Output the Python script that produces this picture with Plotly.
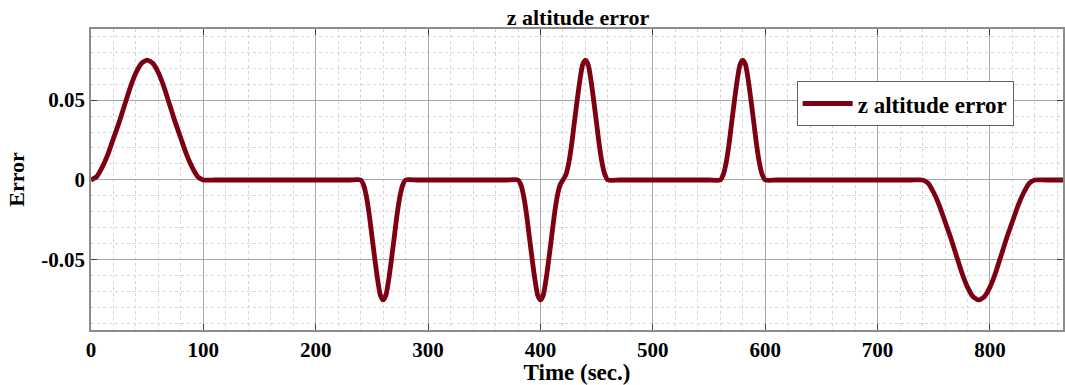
import plotly.graph_objects as go

# Time samples (sec.) and the z altitude error
time_s = [
    0, 5, 10, 15, 20, 25, 30, 35, 40, 45, 50, 55, 60, 65, 70, 75, 80, 85, 90, 95, 100,
    110, 120, 140, 160, 180, 200, 220, 230,
    240, 242.5, 245, 247.5, 250, 252.5, 255, 257.5, 260, 262.5, 265, 267.5, 270, 272.5, 275, 277.5, 280,
    290, 300, 320, 340, 360, 370,
    380, 382.5, 385, 387.5, 390, 392.5, 395, 397.5, 400, 402.5, 405, 407.5, 410, 412.5, 415, 417.5, 420,
    422.5, 425, 427.5, 430, 432.5, 435, 437.5, 440, 442.5, 445, 447.5, 450, 452.5, 455, 457.5, 460,
    470, 480, 500, 520, 540, 550,
    560, 562.5, 565, 567.5, 570, 572.5, 575, 577.5, 580, 582.5, 585, 587.5, 590, 592.5, 595, 597.5, 600,
    610, 620, 640, 660, 680, 700, 720, 730,
    740, 745, 750, 755, 760, 765, 770, 775, 780, 785, 790, 795, 800, 805, 810, 815, 820, 825, 830, 835, 840,
    850, 865,
]

z_error = [
    0, 0.002, 0.008, 0.016, 0.026, 0.036, 0.047, 0.058, 0.067, 0.073, 0.075,
    0.073, 0.067, 0.058, 0.047, 0.036, 0.026, 0.016, 0.008, 0.002, 0,
    0, 0, 0, 0, 0, 0, 0, 0,
    0, -0.003, -0.010, -0.021, -0.035, -0.049, -0.062, -0.072, -0.075,
    -0.072, -0.062, -0.049, -0.035, -0.021, -0.010, -0.003, 0,
    0, 0, 0, 0, 0, 0,
    0, -0.003, -0.010, -0.021, -0.035, -0.049, -0.062, -0.072, -0.075,
    -0.072, -0.062, -0.049, -0.035, -0.021, -0.010, -0.003, 0,
    0.003, 0.010, 0.021, 0.035, 0.049, 0.062, 0.072, 0.075,
    0.072, 0.062, 0.049, 0.035, 0.021, 0.010, 0.003, 0,
    0, 0, 0, 0, 0, 0,
    0, 0.003, 0.010, 0.021, 0.035, 0.049, 0.062, 0.072, 0.075,
    0.072, 0.062, 0.049, 0.035, 0.021, 0.010, 0.003, 0,
    0, 0, 0, 0, 0, 0, 0, 0,
    0, -0.002, -0.008, -0.016, -0.026, -0.036, -0.047, -0.058, -0.067, -0.073, -0.075,
    -0.073, -0.067, -0.058, -0.047, -0.036, -0.026, -0.016, -0.008, -0.002, 0,
    0, 0,
]

x_ticks = [0, 100, 200, 300, 400, 500, 600, 700, 800]
y_ticks = [-0.05, 0, 0.05]
y_tick_labels = ["-0.05", "0", "0.05"]

SERIF = "Liberation Serif, Times New Roman, serif"
LINE_RED = "#7d0012"

fig = go.Figure()
fig.add_trace(go.Scatter(
    x=time_s,
    y=z_error,
    mode="lines",
    name="<b>z altitude error</b>",
    line=dict(color=LINE_RED, width=4.8, shape="spline", smoothing=0.6),
))

axis_common = dict(
    showline=True,
    linecolor="#8c8c8c",
    linewidth=1.5,
    mirror="ticks",
    ticks="inside",
    ticklen=6,
    tickcolor="#404040",
    showgrid=True,
    gridcolor="#a8a8a8",
    gridwidth=1,
    zeroline=False,
    tickfont=dict(family=SERIF, size=21, color="black", weight="bold"),
)

fig.update_xaxes(
    **axis_common,
    range=[0, 865],
    tickvals=x_ticks,
    title=dict(text="<b>Time (sec.)</b>", font=dict(family=SERIF, size=23, color="black"), standoff=0),
    minor=dict(dtick=20, tick0=0, showgrid=True, gridcolor="#d6d6d6", griddash="dot", gridwidth=1),
)
fig.update_yaxes(
    **axis_common,
    range=[-0.0938, 0.0944],
    tickvals=y_ticks,
    ticktext=y_tick_labels,
    title=dict(text="<b>Error</b>", font=dict(family=SERIF, size=22, color="black"), standoff=11),
    minor=dict(dtick=0.01, tick0=0, showgrid=True, gridcolor="#d6d6d6", griddash="dot", gridwidth=1),
)

fig.update_layout(
    width=1065,
    height=385,
    margin=dict(l=91, r=0, t=29, b=55),
    paper_bgcolor="white",
    plot_bgcolor="white",
    title=dict(
        text="<b>z altitude error</b>",
        font=dict(family=SERIF, size=22, color="black"),
        x=0.5427, xanchor="center", y=0.955, yanchor="middle",
    ),
    showlegend=True,
    legend=dict(
        x=0.726, y=0.827, xanchor="left", yanchor="top",
        bgcolor="white",
        bordercolor="#606060",
        borderwidth=1,
        font=dict(family=SERIF, size=23, color="black"),
        itemwidth=50,
    ),
)

fig.write_html("out.html")
